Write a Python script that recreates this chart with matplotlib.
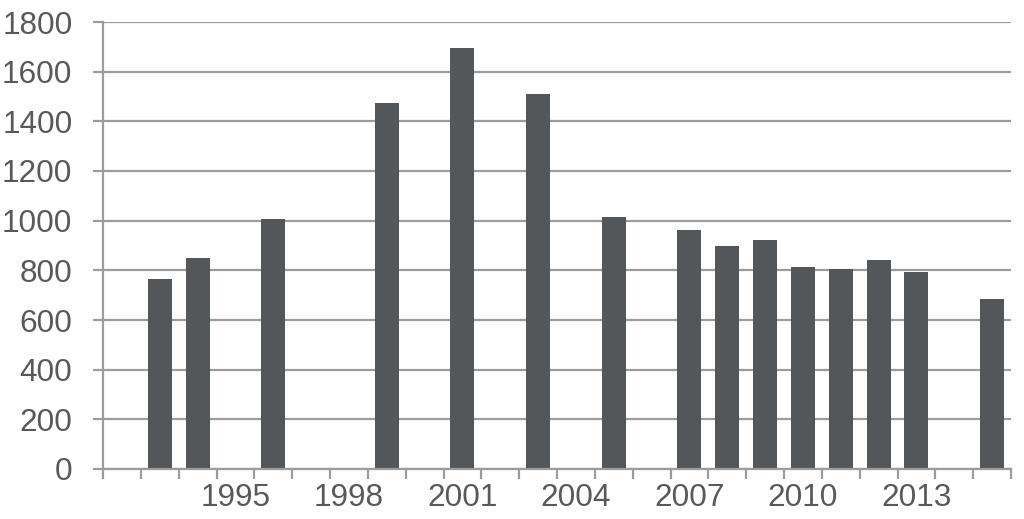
import numpy as np
import matplotlib
matplotlib.use('Agg')
import matplotlib.pyplot as plt

# values
years = [1993, 1994, 1996, 1999, 2001, 2003, 2005, 2007, 2008, 2009, 2010, 2011, 2012, 2013, 2015]
values = [766, 848, 1006, 1475, 1697, 1510, 1016, 964, 897, 921, 812, 804, 840, 793, 685]
label_years = [1995, 1998, 2001, 2004, 2007, 2010, 2013]
y_ticks = [0, 200, 400, 600, 800, 1000, 1200, 1400, 1600, 1800]

plt.rcParams['font.family'] = ['Liberation Sans', 'DejaVu Sans']
grey = '#9c9c9c'
text_col = '#595959'

fig = plt.figure(figsize=(10.24, 5.19), dpi=100)
ax = fig.add_axes([103 / 1024, 50 / 519, 908 / 1024, 447 / 519])

ax.bar(years, values, width=0.635, color='#54575a', zorder=3)

ax.set_xlim(1991.5, 2015.5)
ax.set_ylim(0, 1800)
ax.set_yticks(y_ticks)
ax.yaxis.grid(True, color=grey, linewidth=1.6, zorder=0)

# category boundary ticks (no labels) and label positions (no ticks)
ax.set_xticks(np.arange(1991.5, 2016, 1))
ax.set_xticklabels([])
ax.set_xticks(label_years, minor=True)
ax.set_xticklabels([str(y) for y in label_years], minor=True)
ax.tick_params(axis='x', which='major', length=7, width=1.6, color=grey, direction='out')
ax.tick_params(axis='x', which='minor', length=0, pad=10, labelsize=22.7, labelcolor=text_col)
ax.tick_params(axis='y', length=7, width=1.6, color=grey, pad=15, labelsize=22.7, labelcolor=text_col)

for side in ['top', 'right']:
    ax.spines[side].set_visible(False)
for side in ['left', 'bottom']:
    ax.spines[side].set_color(grey)
    ax.spines[side].set_linewidth(1.6)
    ax.spines[side].set_zorder(4)

fig.savefig('out.png', dpi=100)
